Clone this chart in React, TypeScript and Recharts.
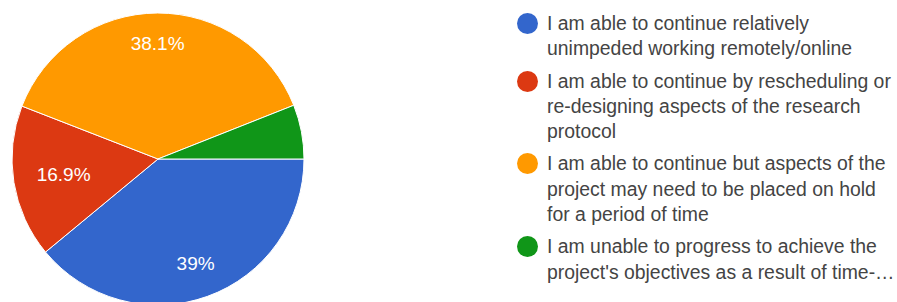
import { Cell, Legend, Pie, PieChart } from "recharts";

const answers = [
  ["I am able to continue relatively", "unimpeded working remotely/online"],
  ["I am able to continue by rescheduling or", "re-designing aspects of the research", "protocol"],
  ["I am able to continue but aspects of the", "project may need to be placed on hold", "for a period of time"],
  ["I am unable to progress to achieve the", "project's objectives as a result of time-…"]
];
const shares = [39, 16.9, 38.1, 6.0];
const colors = ["#3366cc", "#dc3912", "#ff9900", "#109618"];

const data = answers.map((lines, i) => ({ name: lines.join(" "), value: shares[i] }));

const FONT = "Arial, 'Liberation Sans', sans-serif";
const RADIAN = Math.PI / 180;

function renderLabel(props: any) {
  const { cx, cy, midAngle, outerRadius, value } = props;
  if (value < 10) return null;
  const text = `${value}%`;
  const cos = Math.cos(-midAngle * RADIAN);
  const sin = Math.sin(-midAngle * RADIAN);
  const hw = (text.length * 19 * 0.56) / 2;
  const d = outerRadius - 23 - (hw * Math.abs(cos) + 7 * Math.abs(sin));
  return (
    <text
      x={cx + d * cos}
      y={cy + d * sin}
      fill="#ffffff"
      fontSize={19}
      fontFamily={FONT}
      textAnchor="middle"
      dominantBaseline="central"
    >
      {text}
    </text>
  );
}

function renderLegend() {
  return (
    <div style={{ fontFamily: FONT, fontSize: 19.4, lineHeight: "25.3px", color: "#444" }}>
      {answers.map((lines, i) => (
        <div key={i} style={{ display: "flex", marginBottom: 7 }}>
          <span
            style={{
              width: 21,
              height: 21,
              borderRadius: "50%",
              background: colors[i],
              marginTop: 2,
              marginRight: 9,
              flexShrink: 0
            }}
          />
          <div>
            {lines.map((l, j) => (
              <div key={j} style={{ whiteSpace: "nowrap" }}>
                {l}
              </div>
            ))}
          </div>
        </div>
      ))}
    </div>
  );
}

export default function App() {
  return (
    <div style={{ position: "absolute", left: 0, top: 0, width: 897, height: 302, background: "#fff" }}>
      <PieChart width={897} height={302} margin={{ top: 0, right: 0, bottom: 0, left: 0 }}>
        <Pie
          data={data}
          dataKey="value"
          cx={158}
          cy={159}
          outerRadius={146}
          startAngle={0}
          endAngle={-360}
          stroke="#ffffff"
          strokeWidth={1}
          label={renderLabel}
          labelLine={false}
          isAnimationActive={false}
        >
          {data.map((_, i) => (
            <Cell key={i} fill={colors[i]} />
          ))}
        </Pie>
        <Legend
          layout="vertical"
          align="right"
          verticalAlign="top"
          content={renderLegend}
          wrapperStyle={{ left: 517, top: 11, width: 380 }}
        />
      </PieChart>
    </div>
  );
}
